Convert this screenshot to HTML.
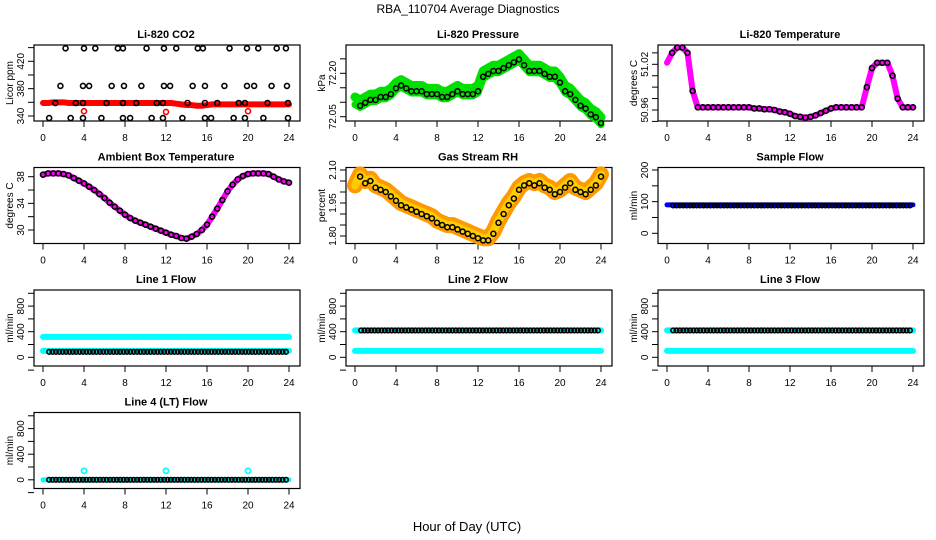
<!DOCTYPE html>
<html><head><meta charset="utf-8"><style>
html,body{margin:0;padding:0;background:#fff;}
svg{display:block;font-family:"Liberation Sans",sans-serif;}
</style></head><body>
<svg id="chart" width="936" height="540" viewBox="0 0 936 540">
<rect width="936" height="540" fill="#fff"/>
<text x="468" y="13" text-anchor="middle" font-size="12">RBA_110704  Average Diagnostics</text>
<text x="467" y="531" text-anchor="middle" font-size="13">Hour of Day (UTC)</text>
</svg>
<script>
const hours = [0,0.5,1,1.5,2,2.5,3,3.5,4,4.5,5,5.5,6,6.5,7,7.5,8,8.5,9,9.5,10,10.5,11,11.5,12,12.5,13,13.5,14,14.5,15,15.5,16,16.5,17,17.5,18,18.5,19,19.5,20,20.5,21,21.5,22,22.5,23,23.5,24];
const xTicks = [0,4,8,12,16,20,24];
// CO2
const co2Red = [359,359,360,360,360,359,359,359,359,359,359,359,359,359,359,359,359,359,359,359,359,359,359,359,359,359,358,357,356,356,355,355,356,357,357,357,357,357,357,357,357,357,357,357,357,357,357,357,357];
const co2OutHours = [4,12,20];
const co2OutVals = [347,346,347];
const co2BlackTopH = [2.2,4,5.1,7.3,7.8,10.1,11.8,13,15.1,15.6,18.2,19.9,21,22.8,23.7];
const co2BlackMidH = [1.7,3.9,4.5,6.7,7.9,9.6,11.8,12.4,14.6,15.8,17.7,19.9,20.6,22.3,23.8];
const co2BlackLowH = [1.2,3.2,3.9,6.2,7.8,9.1,11.1,11.7,14.1,15.8,17,19.1,19.7,21.9,23.9];
const co2BlackBotH = [0.6,2.7,3.9,5.7,7.8,8.5,10.6,11.7,13.6,15.8,16.4,18.6,19.7,21.5,23.9];
const co2Levels = [439,384,359,337];
// Pressure
const pressure = [72.11,72.10,72.11,72.12,72.12,72.13,72.13,72.14,72.16,72.17,72.16,72.15,72.15,72.15,72.14,72.14,72.14,72.13,72.13,72.14,72.15,72.14,72.14,72.14,72.15,72.20,72.21,72.22,72.22,72.23,72.24,72.25,72.26,72.24,72.22,72.22,72.22,72.21,72.20,72.20,72.18,72.15,72.14,72.12,72.10,72.09,72.07,72.06,72.04];
// Li-820 temperature
const licorTemp = [51.022,51.035,51.042,51.042,51.035,50.985,50.9635,50.9635,50.9635,50.9635,50.9635,50.9635,50.9635,50.9635,50.9635,50.9635,50.9635,50.962,50.962,50.961,50.961,50.960,50.958,50.957,50.955,50.952,50.951,50.950,50.951,50.953,50.956,50.959,50.962,50.9635,50.9635,50.9635,50.9635,50.9635,50.9635,50.99,51.015,51.022,51.022,51.022,51.005,50.975,50.9635,50.9635,50.9635];
// Ambient
const ambient = [38.3,38.5,38.5,38.5,38.4,38.2,37.8,37.4,37.0,36.5,36.0,35.4,34.8,34.1,33.5,32.9,32.3,31.8,31.4,31.1,30.8,30.5,30.2,29.9,29.6,29.3,29.1,28.8,28.7,29.0,29.4,30.0,30.8,32.0,33.2,34.5,35.8,36.8,37.6,38.1,38.4,38.5,38.5,38.5,38.4,38.0,37.6,37.3,37.1];
// RH
const rh = [2.03,2.08,2.05,2.06,2.03,2.02,2.01,1.99,1.97,1.95,1.94,1.93,1.92,1.91,1.90,1.89,1.87,1.86,1.85,1.85,1.84,1.83,1.82,1.81,1.80,1.79,1.79,1.82,1.87,1.91,1.95,1.98,2.02,2.04,2.05,2.04,2.05,2.03,2.02,2.00,2.01,2.03,2.05,2.02,2.01,2.00,2.02,2.04,2.08];
// Flows
const sampleFlowBlue = 90, sampleFlowBlack = 88;
const line1Cyan = [320,100], line1Black = 85;
const line2Cyan = [420,100], line2Black = 420;
const line3Cyan = [420,100], line3Black = 420;
const line4Cyan = 0, line4Black = 0;
const line4SpikeH = [4,12,20], line4SpikeV = [140,140,140];

const svg = document.getElementById('chart');
const NS = 'http://www.w3.org/2000/svg';
function mk(tag, attrs, parent){const e=document.createElementNS(NS,tag);for(const k in attrs)e.setAttribute(k,attrs[k]);(parent||svg).appendChild(e);return e;}

const colX0 = [43,355,667];
const rowTop = [45,167.5,290,412.5];
function panel(name,col,row,title,ylab,v1,y1,v2,y2,ticks,labels,labelText){
  const g = mk('g',{});
  
  
  const X0 = colX0[col], top=rowTop[row], bot=top+76;
  const xs = h => X0 + h*10.25;
  const ys = v => y1 + (v-v1)*(y2-y1)/(v2-v1);
  const box = mk('rect',{x:X0-9,y:top,width:266,height:76,fill:'none',stroke:'#000','stroke-width':1.2},g);
  
  
  const t = mk('text',{x:X0+123,y:top-7,'text-anchor':'middle','font-size':11,'font-weight':'bold'},g);
  t.textContent = title;
  
  
  xTicks.forEach(h=>{
    mk('line',{x1:xs(h),x2:xs(h),y1:bot,y2:bot+6,stroke:'#000'},g);
    const l = mk('text',{x:xs(h),y:bot+20,'text-anchor':'middle','font-size':10},g);
    l.textContent = h;
    
    
  });
  ticks.forEach(v=>{
    const y=ys(v);
    mk('line',{x1:X0-15,x2:X0-9,y1:y,y2:y,stroke:'#000'},g);
  });
  labels.forEach((v,i)=>{
    const y=ys(v);
    const l = mk('text',{x:0,y:0,'text-anchor':'middle','font-size':10,transform:`translate(${X0-19},${y}) rotate(-90)`},g);
    l.textContent = labelText[i];
    
    
  });
  const yl = mk('text',{x:0,y:0,'text-anchor':'middle','font-size':10,transform:`translate(${X0-30},${top+38}) rotate(-90)`},g);
  yl.textContent = ylab;
  
  
  return {g,xs,ys};
}
function circ(p,h,v,color,r,sw,name){
  const c = mk('circle',{cx:p.xs(h),cy:p.ys(v),r:r,fill:'none',stroke:color,'stroke-width':sw},p.g);
  
  
}
function band(p,vals,color,w,name,off){
  const pts = hours.map((h,i)=>p.xs(h)+','+p.ys(vals[i]+(off||0))).join(' ');
  const l = mk('polyline',{points:pts,fill:'none',stroke:color,'stroke-width':w,'stroke-linejoin':'round','stroke-linecap':'round'},p.g);
  
  
}
function flat(p,v,color,w,name,h0,h1){
  const l = mk('line',{x1:p.xs(h0),x2:p.xs(h1),y1:p.ys(v),y2:p.ys(v),stroke:color,'stroke-width':w,'stroke-linecap':'round'},p.g);
  
  
}
function blackRow(p,v,h0,name){
  for(let h=h0; h<=23.9; h+=0.33) circ(p,h,v,'#000',2.3,1.6,name);
}

// CO2
let p = panel('co2',0,0,'Li-820 CO2','Licor ppm',340,116,420,61.3,[340,360,380,400,420,440],[340,380,420],['340','380','420']);
band(p,co2Red,'#ff0000',6,'co2-series');
co2OutHours.forEach((h,i)=>circ(p,h,co2OutVals[i],'#ff0000',2.5,1.6,'co2-outlier'));
[co2BlackTopH,co2BlackMidH,co2BlackLowH,co2BlackBotH].forEach((arr,j)=>arr.forEach(h=>circ(p,h,co2Levels[j],'#000',2.5,1.6,'co2-point')));

// Pressure
p = panel('pressure',1,0,'Li-820 Pressure','kPa',72.05,116.7,72.20,73.3,[72.05,72.10,72.15,72.20,72.25],[72.05,72.20],['72.05','72.20']);
band(p,pressure,'#00e000',9,'pressure-band-upper',0.008);
band(p,pressure,'#00e000',7,'pressure-band-lower',-0.018);
hours.forEach((h,i)=>{ if(h>0) circ(p,h,pressure[i]-0.012,'#000',2.5,1.5,'pressure-point'); });

// Li-820 temperature
p = panel('licor-temp',2,0,'Li-820 Temperature','degrees C',50.96,110,51.02,64.3,[50.945,50.96,50.975,50.99,51.005,51.02,51.035],[50.96,51.02],['50.96','51.02']);
band(p,licorTemp,'#ff00ff',6,'licor-temp-series');
hours.forEach((h,i)=>{ if(h>0) circ(p,h,licorTemp[i],'#000',2.5,1.6,'licor-temp-point'); });

// Ambient
p = panel('ambient',0,1,'Ambient Box Temperature','degrees C',30,230,38,176.7,[30,32,34,36,38],[30,34,38],['30','34','38']);
band(p,ambient,'#ff00ff',6,'ambient-series');
hours.forEach((h,i)=>circ(p,h,ambient[i],'#000',2.5,1.6,'ambient-point'));

// RH
p = panel('rh',1,1,'Gas Stream RH','percent',1.80,236,2.10,170,[1.80,1.85,1.90,1.95,2.00,2.05,2.10],[1.80,1.95,2.10],['1.80','1.95','2.10']);
band(p,rh,'#ff9900',16,'rh-band');
band(p,rh,'#ffcc00',8,'rh-band-inner');
hours.forEach((h,i)=>{ if(h>0) circ(p,h,rh[i]-0.01,'#000',2.5,1.5,'rh-point'); });

// Sample flow
p = panel('sample-flow',2,1,'Sample Flow','ml/min',0,233.3,200,170,[0,50,100,150,200],[0,100,200],['0','100','200']);
flat(p,sampleFlowBlue,'#0000ff',5,'sample-flow-series',0,24);
blackRow(p,sampleFlowBlack,0.6,'sample-flow-point');

const flowTicks=[-200,0,200,400,600,800,1000], flowLabels=[0,400,800], flowLT=['0','400','800'];
// Line 1
p = panel('line1-flow',0,2,'Line 1 Flow','ml/min',0,357.3,400,331.7,flowTicks,flowLabels,flowLT);
line1Cyan.forEach(v=>flat(p,v,'#00ffff',6,'line1-cyan-series',0,24));
blackRow(p,line1Black,0.6,'line1-point');
// Line 2
p = panel('line2-flow',1,2,'Line 2 Flow','ml/min',0,357.3,400,331.7,flowTicks,flowLabels,flowLT);
line2Cyan.forEach(v=>flat(p,v,'#00ffff',6,'line2-cyan-series',0,24));
blackRow(p,line2Black,0.6,'line2-point');
// Line 3
p = panel('line3-flow',2,2,'Line 3 Flow','ml/min',0,357.3,400,331.7,flowTicks,flowLabels,flowLT);
line3Cyan.forEach(v=>flat(p,v,'#00ffff',6,'line3-cyan-series',0,24));
blackRow(p,line3Black,0.6,'line3-point');
// Line 4
p = panel('line4-flow',0,3,'Line 4 (LT) Flow','ml/min',0,479.8,400,454.2,flowTicks,flowLabels,flowLT);
flat(p,line4Cyan,'#00ffff',5,'line4-cyan-series',0,24);
blackRow(p,line4Black,0.6,'line4-point');
line4SpikeH.forEach((h,i)=>circ(p,h,line4SpikeV[i],'#00ffff',2.5,1.8,'line4-spike'));
</script>
</body></html>
